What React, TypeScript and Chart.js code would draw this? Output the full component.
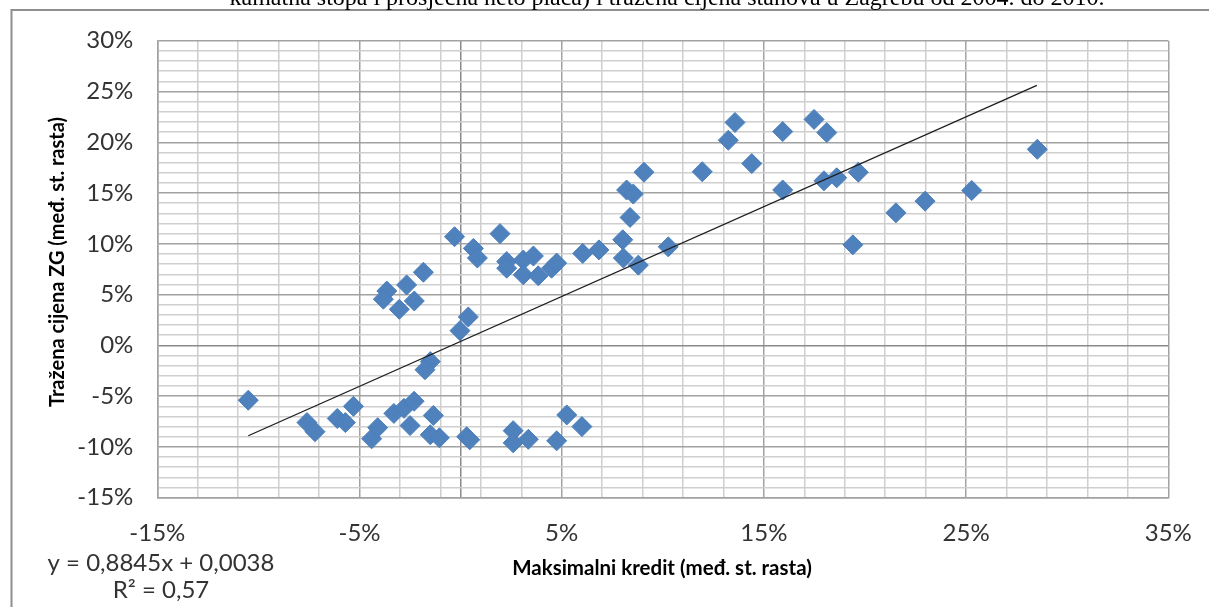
import React, { useEffect, useRef } from 'react';
import { Chart, registerables } from 'chart.js';

Chart.register(...registerables);

// Maksimalni kredit (međ. st. rasta), %
const creditGrowth = [
  -10.5, -7.6, -7.2, -6.1, -5.7, -5.3, -4.4, -4.1, -3.3, -2.8, -2.3, -2.5, -1.35, -1.5, -1.05, 0.3, 0.45,
  2.6, 2.6, 3.35, 4.75, 5.25, 6.0, -0.3, 1.95, 0.63, 0.83, -1.84, -2.67, -3.65, -3.82, -3.03, -2.29, 0.38,
  -0.03, -1.5, -1.76, 2.28, 2.28, 3.1, 3.6, 3.1, 3.84, 4.5, 4.75, 6.04, 6.84, 8.02, 8.05, 8.79, 10.27, 8.38,
  8.21, 8.54, 9.07, 11.95, 13.24, 13.57, 14.4, 15.93, 15.93, 17.48, 18.11, 17.97, 18.6, 19.67, 19.4, 21.53,
  22.97, 25.28, 28.52,
];
// Tražena cijena ZG (međ. st. rasta), %
const priceGrowth = [
  -5.4, -7.6, -8.5, -7.2, -7.6, -6.0, -9.2, -8.1, -6.7, -6.2, -5.5, -7.9, -6.9, -8.8, -9.1, -9.0, -9.3,
  -8.4, -9.6, -9.25, -9.4, -6.85, -8.0, 10.7, 11.0, 9.55, 8.6, 7.2, 5.95, 5.35, 4.55, 3.55, 4.37, 2.8,
  1.45, -1.6, -2.4, 8.25, 7.6, 8.4, 8.8, 6.95, 6.85, 7.6, 8.1, 9.05, 9.4, 10.4, 8.6, 7.9, 9.7, 12.6,
  15.3, 14.9, 17.05, 17.1, 20.2, 21.95, 17.9, 21.05, 15.3, 22.25, 20.95, 16.2, 16.5, 17.05, 9.9, 13.05,
  14.2, 15.25, 19.3,
];
// Linear trendline endpoints
const trendX = [-10.5, 28.5];
const trendY = [-8.9, 25.6];

const xTickLabels = ['-15%', '-5%', '5%', '15%', '25%', '35%'];
const yTickLabels = ['-15%', '-10%', '-5%', '0%', '5%', '10%', '15%', '20%', '25%', '30%'];

const TITLE = 'kamatna stopa i prosječna neto plaća) i tražena cijena stanova u Zagrebu od 2004. do 2010.';
const X_TITLE = 'Maksimalni kredit (međ. st. rasta)';
const Y_TITLE = 'Tražena cijena ZG (međ. st. rasta)';
const EQUATION = 'y = 0,8845x + 0,0038';
const R2 = 'R² = 0,57';

const MINOR = '#cfcfcf';
const MAJOR = '#a2a2a2';
const ZERO = '#8a8a8a';

const decor = {
  id: 'decor',
  afterDraw(chart: any) {
    const ctx = chart.ctx as CanvasRenderingContext2D;
    ctx.save();
    ctx.strokeStyle = '#8e8e8e';
    ctx.lineWidth = 2;
    ctx.beginPath();
    ctx.moveTo(11.5, 607);
    ctx.lineTo(11.5, 10);
    ctx.lineTo(1209, 10);
    ctx.stroke();

    ctx.fillStyle = '#000';
    ctx.textAlign = 'center';
    ctx.textBaseline = 'alphabetic';
    ctx.font = '24px "Liberation Serif"';
    ctx.fillText(TITLE, 667, 5);

    ctx.font = 'bold 20.5px Lato';
    ctx.textBaseline = 'middle';
    ctx.fillText(X_TITLE, 662, 568);

    ctx.font = '24px Lato';
    ctx.fillStyle = '#333';
    ctx.fillText(EQUATION, 161, 563);
    ctx.fillText(R2, 161, 590);

    ctx.fillStyle = '#000';
    ctx.font = 'bold 20px Lato';
    ctx.translate(58, 262);
    ctx.rotate(-Math.PI / 2);
    ctx.fillText(Y_TITLE, 0, 0);
    ctx.restore();
  },
};

export default function App() {
  const ref = useRef<HTMLCanvasElement | null>(null);

  useEffect(() => {
    if (!ref.current) return;
    const points = creditGrowth.map((x, i) => ({ x, y: priceGrowth[i] }));
    const trend = trendX.map((x, i) => ({ x, y: trendY[i] }));
    const chart = new Chart(ref.current, {
      type: 'scatter',
      data: {
        datasets: [
          {
            type: 'line',
            data: trend,
            borderColor: '#1e1e1e',
            borderWidth: 1.3,
            pointRadius: 0,
            fill: false,
            order: 0,
          } as any,
          {
            data: points,
            pointStyle: 'rectRot',
            pointRadius: 10,
            backgroundColor: '#4f81bd',
            borderColor: '#4a7ebb',
            borderWidth: 1,
            order: 1,
          },
        ],
      },
      options: {
        animation: false,
        responsive: false,
        events: [],
        layout: { padding: { left: 0, top: 40.7, right: 40.7, bottom: 0 } },
        plugins: { legend: { display: false }, tooltip: { enabled: false } },
        scales: {
          x: {
            type: 'linear',
            min: -15,
            max: 35,
            afterFit: (s: any) => {
              s.height = 109.3;
              s.paddingLeft = 0;
              s.paddingRight = 0;
            },
            border: { color: MAJOR, width: 1.5 },
            grid: {
              drawTicks: false,
              lineWidth: 1.5,
              color: (c: any) => {
                const v = Math.round(c.tick.value);
                if (v === 0) return ZERO;
                if ((v + 15) % 10 === 0) return MAJOR;
                if (Math.abs(v) % 2 === 1) return MINOR;
                return 'rgba(0,0,0,0)';
              },
            },
            ticks: {
              stepSize: 1,
              autoSkip: false,
              maxRotation: 0,
              padding: 21,
              color: '#333',
              font: { family: 'Lato', size: 24 },
              callback: (v: any) => {
                const l = Math.round(v) + '%';
                return xTickLabels.includes(l) ? l : '';
              },
            },
          },
          y: {
            type: 'linear',
            min: -15,
            max: 30,
            afterFit: (s: any) => {
              s.width = 157.3;
              s.paddingTop = 0;
              s.paddingBottom = 0;
            },
            border: { color: MAJOR, width: 1.5 },
            grid: {
              drawTicks: false,
              lineWidth: 1.5,
              color: (c: any) => {
                const v = Math.round(c.tick.value);
                if (v === 0) return ZERO;
                if (v % 5 === 0) return MAJOR;
                return MINOR;
              },
            },
            ticks: {
              stepSize: 1,
              autoSkip: false,
              padding: 24,
              color: '#333',
              font: { family: 'Lato', size: 24 },
              callback: (v: any) => {
                const l = Math.round(v) + '%';
                return yTickLabels.includes(l) ? l : '';
              },
            },
          },
        },
      },
      plugins: [decor],
    });
    return () => chart.destroy();
  }, []);

  return (
    <div style={{ position: 'absolute', left: 0, top: 0, width: 1209, height: 607, background: '#fff' }}>
      <canvas ref={ref} width={1209} height={607} style={{ display: 'block', width: 1209, height: 607 }} />
    </div>
  );
}
